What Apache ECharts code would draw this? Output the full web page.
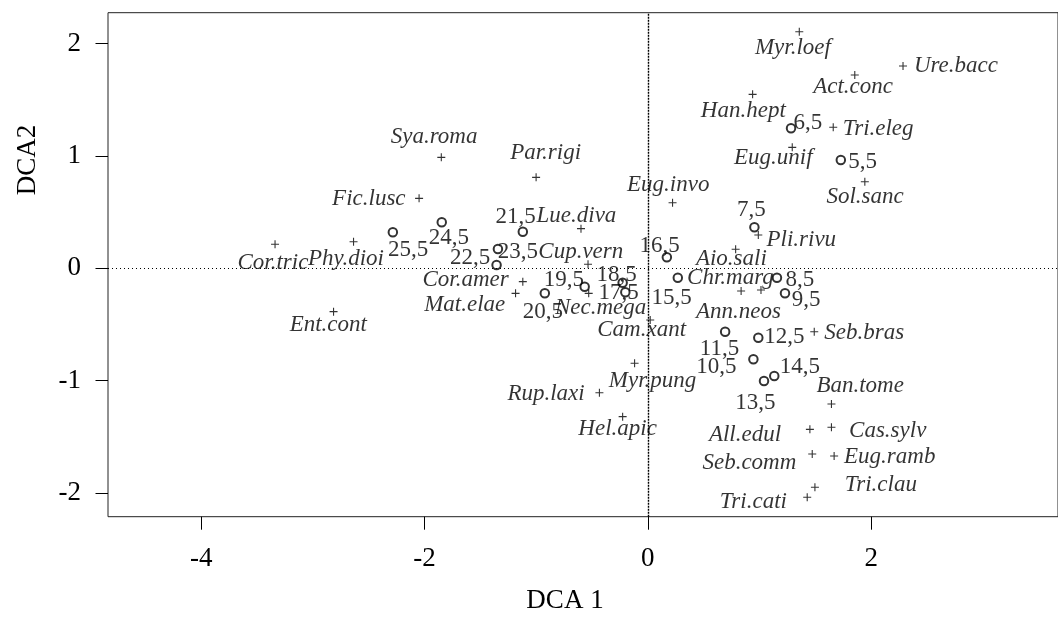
<!DOCTYPE html>
<html><head><meta charset="utf-8">
<script src="https://cdn.jsdelivr.net/npm/echarts@6/dist/echarts.min.js"></script>
<style>html,body{margin:0;padding:0;background:#fff}#c{width:1058px;height:629px}</style>
</head><body><div id="c"></div>
<script>
// Species scores
var spNames = ["Myr.loef","Ure.bacc","Act.conc","Han.hept","Tri.eleg","Eug.unif","Sol.sanc","Sya.roma","Par.rigi","Fic.lusc","Eug.invo","Lue.diva","Cup.vern","Pli.rivu","Aio.sali","Cor.tric","Phy.dioi","Cor.amer","Chr.marg","Mat.elae","Nec.mega","Ann.neos","Ent.cont","Cam.xant","Seb.bras","Myr.pung","Ban.tome","Rup.laxi","Hel.apic","All.edul","Cas.sylv","Seb.comm","Eug.ramb","Tri.clau","Tri.cati"];
var spX = [1.356,2.285,1.853,0.938,1.660,1.293,1.943,-1.850,-1.001,-2.049,0.221,-0.599,-0.536,0.989,0.786,-3.339,-2.636,-1.120,0.835,-1.185,-0.530,1.013,-2.815,0.021,1.490,-0.119,1.644,-0.434,-0.226,1.451,1.644,1.472,1.668,1.496,1.427];
var spY = [2.107,1.801,1.721,1.549,1.256,1.077,0.771,0.988,0.810,0.623,0.584,0.353,0.036,0.297,0.169,0.214,0.237,-0.119,-0.202,-0.223,-0.223,-0.193,-0.386,-0.460,-0.565,-0.846,-1.208,-1.108,-1.321,-1.434,-1.416,-1.654,-1.671,-1.950,-2.039];
// Species label anchors (data units)
var spLabX = [1.299,2.759,1.838,0.855,2.062,1.123,1.945,-1.915,-0.916,-2.499,0.182,-0.640,-0.601,1.374,0.748,-3.358,-2.704,-1.632,0.739,-1.640,-0.423,0.811,-2.862,-0.056,1.937,0.042,1.901,-0.912,-0.271,0.870,2.148,0.909,2.166,2.086,0.945];
var spLabY = [1.959,1.801,1.612,1.401,1.238,0.980,0.635,1.169,1.029,0.614,0.742,0.466,0.142,0.252,0.080,0.047,0.080,-0.104,-0.089,-0.327,-0.354,-0.389,-0.505,-0.549,-0.573,-1.001,-1.048,-1.119,-1.434,-1.484,-1.446,-1.736,-1.678,-1.930,-2.078];
// Site scores
var siteNames = ["5,5","6,5","7,5","8,5","9,5","10,5","11,5","12,5","13,5","14,5","15,5","16,5","17,5","18,5","19,5","20,5","21,5","22,5","23,5","24,5","25,5"];
var siteX = [1.728,1.282,0.954,1.156,1.228,0.945,0.692,0.989,1.040,1.132,0.268,0.170,-0.202,-0.226,-0.566,-0.923,-1.120,-1.355,-1.343,-1.846,-2.284];
var siteY = [0.964,1.247,0.365,-0.084,-0.223,-0.810,-0.565,-0.618,-1.004,-0.959,-0.084,0.098,-0.214,-0.128,-0.164,-0.223,0.326,0.029,0.172,0.410,0.321];
var siteLabX = [1.923,1.433,0.927,1.362,1.418,0.614,0.641,1.222,0.962,1.362,0.212,0.105,-0.262,-0.280,-0.753,-0.941,-1.184,-1.593,-1.164,-1.783,-2.147];
var siteLabY = [0.949,1.297,0.519,-0.104,-0.282,-0.876,-0.721,-0.614,-1.202,-0.876,-0.267,0.199,-0.223,-0.060,-0.104,-0.386,0.459,0.089,0.148,0.267,0.163];
// Axis ticks
var xTicks = [-4,-2,0,2];
var yTicks = [-2,-1,0,1,2];
var xTitle = "DCA 1", yTitle = "DCA2";

var serif = '"Liberation Serif", "Times New Roman", serif';
function pts(xs, ys, names){ return xs.map(function(v,i){ return {name: names[i], value:[v, ys[i]]}; }); }

var chart = echarts.init(document.getElementById('c'), null, {renderer:'canvas'});
chart.setOption({
  animation:false,
  backgroundColor:'#fff',
  grid:{left:108, top:12.7, width:952, height:504, show:true, borderColor:'#222', borderWidth:1, backgroundColor:'transparent', containLabel:false},
  xAxis:{type:'value', min:-4.835, max:3.673,
    axisLine:{show:false, onZero:false}, splitLine:{show:false},
    axisTick:{show:true, length:13, inside:false, customValues:xTicks, lineStyle:{color:'#000', width:1}},
    axisLabel:{customValues:xTicks, fontSize:27, fontFamily:serif, color:'#000', margin:29}},
  yAxis:{type:'value', min:-2.212, max:2.276,
    axisLine:{show:false, onZero:false}, splitLine:{show:false},
    axisTick:{show:true, length:12.5, inside:false, customValues:yTicks, lineStyle:{color:'#000', width:1}},
    axisLabel:{customValues:yTicks, fontSize:27, fontFamily:serif, color:'#000', margin:27}},
  graphic:[
    {type:'text', x:565, y:601, style:{text:xTitle, font:'27px '+serif, fill:'#000', align:'center', verticalAlign:'middle'}},
    {type:'text', x:28, y:160, rotation:Math.PI/2, style:{text:yTitle, font:'27px '+serif, fill:'#000', align:'center', verticalAlign:'middle'}}
  ],
  series:[
    {type:'scatter', name:'species', data:pts(spX, spY, spNames), symbol:'path://M5,0L5,10M0,5L10,5', symbolSize:8,
      itemStyle:{color:'rgba(0,0,0,0)', borderColor:'#000', borderWidth:1.1}, z:3,
      markLine:{silent:true, symbol:'none', label:{show:false}, animation:false,
        data:[{yAxis:0, lineStyle:{type:[1,3], color:'#000', width:1}}, {xAxis:0, lineStyle:{type:[2,1], color:'#000', width:1.4}}]}},
    {type:'scatter', name:'sites', data:pts(siteX, siteY, siteNames), symbol:'emptyCircle', symbolSize:8.5,
      itemStyle:{color:'#000', borderColor:'#000', borderWidth:0.9}, z:3},
    {type:'scatter', name:'speciesLabels', data:pts(spLabX, spLabY, spNames), symbolSize:1,
      itemStyle:{color:'rgba(0,0,0,0)'}, z:4,
      label:{show:true, position:'inside', formatter:'{b}', fontSize:23, fontStyle:'italic', fontFamily:serif, color:'#000'}},
    {type:'scatter', name:'siteLabels', data:pts(siteLabX, siteLabY, siteNames), symbolSize:1,
      itemStyle:{color:'rgba(0,0,0,0)'}, z:4,
      label:{show:true, position:'inside', formatter:'{b}', fontSize:23, fontFamily:serif, color:'#000'}}
  ]
});
</script></body></html>
